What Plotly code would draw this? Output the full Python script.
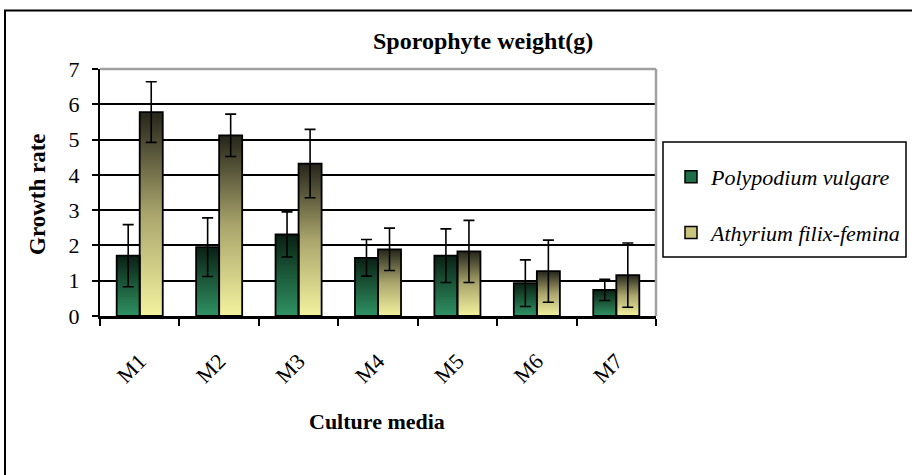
import plotly.graph_objects as go

# ---- data ----
categories = ["M1", "M2", "M3", "M4", "M5", "M6", "M7"]
series_names = ["Polypodium vulgare", "Athyrium filix-femina"]
polypodium = [1.71, 1.95, 2.31, 1.65, 1.71, 0.93, 0.74]
polypodium_err = [0.88, 0.83, 0.64, 0.52, 0.76, 0.66, 0.30]
athyrium = [5.78, 5.12, 4.32, 1.89, 1.83, 1.27, 1.16]
athyrium_err = [0.86, 0.60, 0.97, 0.60, 0.88, 0.88, 0.91]
y_ticks = [0, 1, 2, 3, 4, 5, 6, 7]

# ---- style ----
FONT = "Liberation Serif"
BARGAP = 0.42
BAR_W = (1 - BARGAP) / 2
green_scale = [[0, "#2f9263"], [0.5, "#1c5a3b"], [1, "#0a1f14"]]
yellow_scale = [[0, "#f3f39f"], [0.5, "#aaa56c"], [1, "#25251a"]]
legend_colors = ["#1f6e48", "#c8c47e"]

fig = go.Figure()

# gradient fills (underlay), derived from the data through the numeric x axis
for s_idx, (vals, scale) in enumerate([(polypodium, green_scale), (athyrium, yellow_scale)]):
    for i, v in enumerate(vals):
        left = i - BAR_W + s_idx * BAR_W
        right = left + BAR_W
        fig.add_trace(go.Scatter(
            x=[left, right, right, left, left],
            y=[0, 0, v, v, 0],
            mode="lines", fill="toself",
            line=dict(width=0, color="rgba(0,0,0,0)"),
            fillgradient=dict(type="vertical", colorscale=scale),
            showlegend=False, hoverinfo="skip",
            xaxis="x", yaxis="y",
        ))

# legend entries
for name, col in zip(series_names, legend_colors):
    fig.add_trace(go.Bar(
        x=[None], y=[None], name=name,
        marker=dict(color=col, line=dict(color="black", width=1.5)),
        legendgroup=name, xaxis="x", yaxis="y",
    ))

# real bars with outlines and error bars (overlay axes)
for name, vals, errs in [(series_names[0], polypodium, polypodium_err),
                         (series_names[1], athyrium, athyrium_err)]:
    fig.add_trace(go.Bar(
        x=categories, y=vals, name=name,
        marker=dict(color="rgba(0,0,0,0)", line=dict(color="black", width=1.8)),
        error_y=dict(type="data", array=errs, visible=True,
                     color="black", thickness=1.6, width=5.5),
        showlegend=False, xaxis="x2", yaxis="y2",
    ))

L, R, T, B = 100, 256, 69, 159
W, H = 912, 475
pw, ph = W - L - R, H - T - B


def px_x(p):
    return (p - L) / pw


def px_y(p):
    return (H - B - p) / ph


fig.update_layout(
    width=W, height=H,
    margin=dict(l=L, r=R, t=T, b=B, autoexpand=False),
    paper_bgcolor="white", plot_bgcolor="white",
    barmode="group", bargap=BARGAP, bargroupgap=0,
    font=dict(family=FONT, color="black", size=20),
    showlegend=True,
    legend=dict(
        x=px_x(671), y=px_y(156), xanchor="left", yanchor="top",
        bgcolor="rgba(0,0,0,0)", borderwidth=0,
        font=dict(family=FONT, size=22, style="italic", color="black"),
        traceorder="grouped", tracegroupgap=24,
    ),
    xaxis=dict(
        range=[-0.5, len(categories) - 0.5],
        tickvals=[i - 0.5 for i in range(len(categories) + 1)],
        showticklabels=False, ticks="outside", ticklen=7, tickwidth=1.5,
        tickcolor="black", showline=True, linecolor="black", linewidth=3,
        showgrid=False, zeroline=False, fixedrange=True,
    ),
    xaxis2=dict(
        overlaying="x", anchor="y2", side="bottom", type="category",
        range=[-0.5, len(categories) - 0.5],
        tickangle=-45, ticks="", showline=False, showgrid=False,
        ticklabelstandoff=27,
        tickfont=dict(family=FONT, size=22, color="black"),
        zeroline=False, automargin=False,
    ),
    yaxis=dict(
        range=[0, 7], tickvals=y_ticks,
        ticks="outside", ticklen=6, tickwidth=1.5, tickcolor="black",
        showline=True, linecolor="black", linewidth=2,
        showgrid=True, gridcolor="black", gridwidth=1.6,
        zeroline=False, ticklabelstandoff=8,
        tickfont=dict(family=FONT, size=22, color="black"),
        automargin=False,
    ),
    yaxis2=dict(
        overlaying="y", anchor="x2", range=[0, 7], visible=False,
    ),
    shapes=[
        # plot area top / right border (gray)
        dict(type="line", xref="paper", yref="paper", x0=0, x1=1, y0=1, y1=1,
             line=dict(color="#a0a0a0", width=2.5), layer="above"),
        dict(type="line", xref="paper", yref="paper", x0=1, x1=1, y0=0, y1=1,
             line=dict(color="#a0a0a0", width=2.5), layer="above"),
        # legend box
        dict(type="rect", xref="paper", yref="paper",
             x0=px_x(663), x1=px_x(906), y0=px_y(257), y1=px_y(142),
             line=dict(color="black", width=1.5), layer="above"),
        # outer chart border
        dict(type="rect", xref="paper", yref="paper",
             x0=px_x(5), x1=px_x(930), y0=px_y(500), y1=px_y(10.5),
             line=dict(color="black", width=2), layer="above"),
    ],
    annotations=[
        dict(text="Sporophyte weight(g)", xref="paper", yref="paper",
             x=px_x(483), y=px_y(41), xanchor="center", yanchor="middle",
             showarrow=False, font=dict(family=FONT, size=24, weight="bold")),
        dict(text="Growth rate", xref="paper", yref="paper",
             x=px_x(37), y=px_y(194), xanchor="center", yanchor="middle",
             textangle=-90, showarrow=False,
             font=dict(family=FONT, size=23, weight="bold")),
        dict(text="Culture media", xref="paper", yref="paper",
             x=px_x(377), y=px_y(421), xanchor="center", yanchor="middle",
             showarrow=False, font=dict(family=FONT, size=22, weight="bold")),
    ],
)

fig.write_html("out.html", config={"displayModeBar": False},
               post_script="document.body.style.margin='0';")
